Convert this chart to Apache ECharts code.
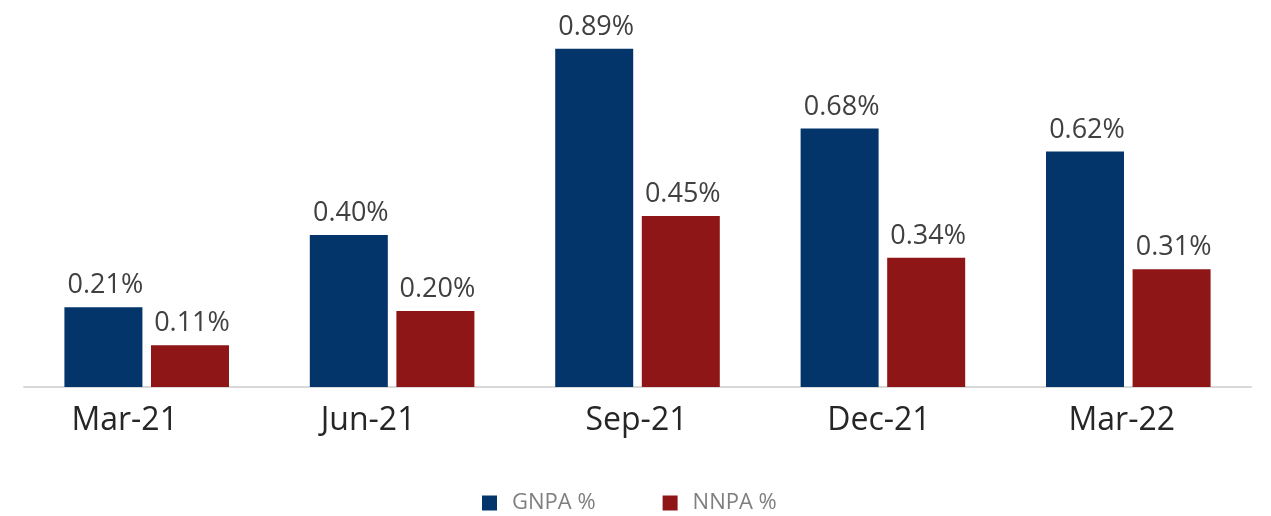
<!DOCTYPE html>
<html><head><meta charset="utf-8">
<script src="https://cdn.jsdelivr.net/npm/echarts@6/dist/echarts.min.js"></script>
<style>html,body{margin:0;padding:0;background:#fff}#c{width:1271px;height:516px}</style>
</head><body><div id="c"></div>
<script>
const categories = ['Mar-21', 'Jun-21', 'Sep-21', 'Dec-21', 'Mar-22'];
const gnpa = [0.21, 0.40, 0.89, 0.68, 0.62];
const nnpa = [0.11, 0.20, 0.45, 0.34, 0.31];
const seriesNames = ['GNPA %', 'NNPA %'];

// horizontal nudge of each category label (as in the reference)
const labelShift = [44, 48, 2, 8, 13];

const chart = echarts.init(document.getElementById('c'), null, {renderer: 'canvas'});
const labelCfg = {
  show: true, position: 'top', distance: 8,
  fontFamily: 'Open Sans', fontSize: 27, color: '#404040',
  padding: [0, 0, 0, 4],
  formatter: p => p.value.toFixed(2) + '%'
};
chart.setOption({
  animation: false,
  grid: {left: 24, right: 20, top: 7, bottom: 129},
  legend: {
    top: 487, left: 477, itemWidth: 15, itemHeight: 15, itemGap: 67,
    icon: 'rect',
    textStyle: {fontFamily: 'Open Sans', fontSize: 22, color: '#7f7f7f', padding: [0,0,0,10]},
    data: seriesNames
  },
  xAxis: {
    type: 'category',
    data: categories.map((c, i) => ({value: c, textStyle: {padding: [0, labelShift[i], 0, 0]}})),
    axisLine: {lineStyle: {color: '#d9d9d9', width: 2}},
    axisTick: {show: false},
    axisLabel: {fontFamily: 'Open Sans', fontSize: 32, color: '#262626', margin: 18}
  },
  yAxis: {
    type: 'value', min: 0, max: 1, show: false,
    splitLine: {show: false}
  },
  series: [
    {name: seriesNames[0], type: 'bar', data: gnpa, barWidth: 78, barGap: '11%',
     itemStyle: {color: '#03356B'}, label: labelCfg},
    {name: seriesNames[1], type: 'bar', data: nnpa, barWidth: 78, barGap: '11%',
     itemStyle: {color: '#8E1616'}, label: labelCfg}
  ]
});
</script></body></html>
